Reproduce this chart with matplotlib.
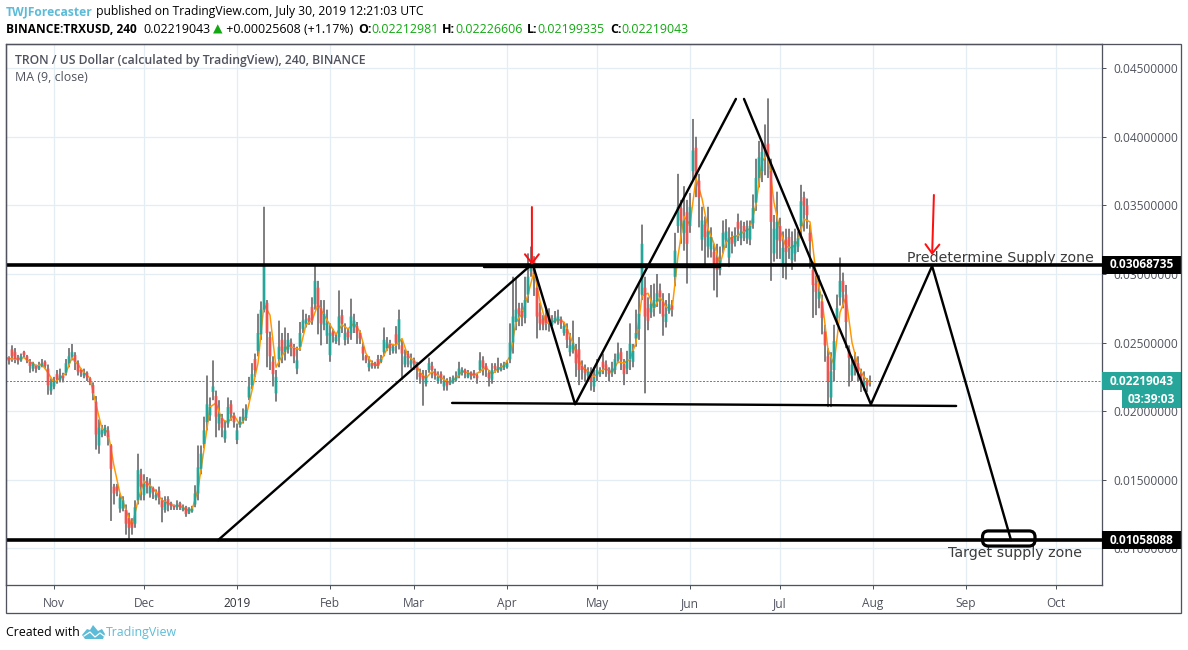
import numpy as np
import matplotlib
matplotlib.use("Agg")
import matplotlib.pyplot as plt
import matplotlib.dates as mdates
from matplotlib.patches import FancyBboxPatch, Polygon, Rectangle
from matplotlib.transforms import Affine2D

# Candles, one per day from 2018-10-16, prices in units of 0.0001
first_day = np.datetime64("2018-10-16")
open_e4 = [
    237, 239, 245, 243, 239, 237, 243, 240, 236, 231, 233, 231, 233, 236, 231, 215, 218,
    227, 223, 226, 228, 235, 240, 241, 235, 230, 226, 228, 224, 219, 207, 175, 183, 184, 186, 175,
    145, 145, 129, 129, 128, 122, 119, 118, 135, 154, 139, 149, 140, 144, 137, 142, 135, 128, 136, 133, 131, 130, 133, 128, 130, 126, 127, 132, 140, 158,
    176, 192, 197, 214, 211, 191, 195, 180, 191, 205, 197, 179, 190, 193, 195, 210, 219, 238, 244, 256, 274, 279, 254, 236, 213, 238, 252, 243, 245, 250, 246, 231, 247, 260, 264, 268, 276, 278, 290, 275, 263, 255, 241, 258, 251, 254, 270, 252, 258, 257, 261, 262, 257, 247, 240, 232, 235, 235, 238, 236, 243, 246, 249, 244,
    256, 250, 248, 234, 242, 234, 237, 233, 228, 226, 220, 230, 233, 229, 222, 227, 218, 222, 220, 221, 223, 226, 228, 230, 225, 228, 228, 226, 230, 237, 233, 228, 223, 233, 230, 230, 232, 232, 238, 250, 265, 275, 273, 268, 285, 302, 310, 290, 272, 267, 270, 270, 263, 265, 266, 267, 257, 260, 243, 245, 245, 245, 233, 231, 226,
    228, 218, 226, 227, 236, 234, 230, 228, 230, 238, 243, 234, 231, 238, 236, 253, 260, 285, 290, 275, 272, 275, 280, 288, 280, 265, 273, 277, 298, 335, 348, 330, 345, 335, 375, 392, 368, 325, 336, 320, 318, 316, 312, 303, 320, 325, 312, 327, 323,
    338, 326, 335, 326, 325, 337, 352, 370, 375, 394, 395, 375, 315, 325, 335, 305, 325, 327, 310, 315, 320, 335, 356, 350, 330, 303, 293, 282, 280, 258, 240, 210, 230, 268, 283, 295, 285, 245, 226, 237, 235, 227, 218, 222, 221.3,
]
high_e4 = [
    241, 240, 248, 246, 241, 242, 244, 241, 238, 236, 234, 236, 238, 237, 234, 224, 225,
    230, 231, 228, 238, 246, 249, 243, 237, 231, 231, 229, 225, 221, 211, 194, 190, 190, 189, 176,
    147, 147, 140, 138, 132, 126, 122, 135, 169, 158, 154, 152, 151, 145, 143, 145, 137, 138, 138, 134, 132, 135, 134, 132, 131, 130, 131, 146, 175, 175,
    196, 226, 210, 237, 215, 208, 198, 193, 210, 208, 199, 191, 196, 202, 205, 225, 235, 242, 271, 280, 349, 281, 258, 240, 230, 266, 257, 261, 257, 253, 249, 247, 265, 274, 271, 270, 283, 306, 295, 281, 281, 274, 264, 260, 257, 288, 274, 264, 260, 282, 271, 265, 259, 250, 241, 240, 237, 236, 241, 241, 261, 254, 252, 249,
    262, 274, 252, 245, 244, 242, 239, 236, 231, 230, 230, 239, 236, 231, 229, 229, 226, 224, 225, 226, 229, 236, 232, 231, 230, 229, 230, 228, 243, 240, 235, 230, 235, 235, 239, 235, 236, 237, 264, 298, 297, 279, 279, 298, 315, 320, 313, 298, 279, 270, 274, 275, 270, 273, 274, 269, 265, 264, 257, 266, 249, 254, 237, 234, 232,
    232, 232, 238, 232, 242, 237, 232, 236, 242, 250, 246, 238, 244, 264, 249, 274, 293, 336, 298, 283, 292, 293, 300, 293, 286, 281, 286, 281, 330, 373, 354, 364, 354, 359, 413, 400, 373, 349, 342, 349, 334, 322, 322, 320, 339, 340, 334, 331, 334,
    344, 339, 338, 339, 339, 358, 384, 397, 397, 409, 428, 384, 343, 360, 341, 331, 333, 333, 331, 333, 331, 365, 360, 355, 336, 309, 299, 299, 285, 263, 246, 243, 263, 285, 312, 301, 292, 248, 240, 243, 240, 231, 229, 224, 226,
]
low_e4 = [
    236, 234, 236, 235, 234, 236, 239, 235, 228, 229, 228, 230, 232, 231, 212, 212, 216,
    220, 221, 221, 226, 232, 237, 230, 226, 225, 224, 222, 219, 208, 172, 169, 181, 182, 175, 120,
    132, 138, 126, 127, 110, 107, 110, 115, 132, 135, 135, 140, 137, 136, 135, 132, 119, 126, 127, 128, 128, 128, 128, 127, 123, 125, 126, 130, 135, 154,
    173, 186, 193, 208, 181, 186, 181, 177, 188, 193, 188, 176, 188, 191, 193, 208, 216, 225, 240, 252, 272, 232, 230, 218, 207, 232, 235, 237, 242, 240, 235, 227, 244, 257, 261, 263, 263, 274, 256, 248, 259, 249, 236, 250, 249, 248, 257, 248, 249, 252, 257, 249, 249, 237, 235, 229, 231, 231, 231, 235, 240, 244, 241, 242,
    242, 245, 223, 232, 232, 231, 230, 223, 220, 204, 218, 228, 224, 223, 220, 220, 215, 215, 219, 220, 222, 224, 226, 224, 224, 223, 224, 220, 228, 226, 225, 218, 220, 228, 228, 229, 230, 231, 235, 242, 259, 262, 262, 264, 279, 298, 284, 253, 259, 259, 259, 258, 262, 264, 263, 260, 255, 246, 240, 242, 225, 219, 223, 222, 223,
    215, 214, 222, 225, 227, 225, 222, 225, 227, 235, 230, 219, 227, 230, 232, 247, 252, 281, 213, 259, 268, 269, 276, 271, 255, 261, 271, 269, 291, 330, 322, 317, 293, 330, 368, 356, 334, 317, 306, 312, 312, 288, 283, 299, 315, 319, 305, 315, 320,
    324, 321, 324, 322, 321, 333, 346, 363, 367, 372, 370, 295, 309, 311, 311, 297, 296, 311, 303, 309, 316, 326, 331, 333, 304, 268, 270, 275, 256, 236, 203, 203, 222, 263, 277, 275, 246, 218, 222, 226, 222, 214, 215, 214, 218,
]
close_e4 = [
    239, 237, 240, 238, 237, 240, 241, 237, 233, 235, 231, 233, 235, 233, 219, 221, 222,
    223, 226, 224, 235, 240, 243, 236, 229, 228, 228, 225, 221, 213, 183, 188, 186, 188, 181, 158,
    140, 142, 137, 135, 118, 115, 115, 130, 157, 145, 147, 145, 145, 141, 139, 137, 130, 134, 132, 131, 130, 132, 130, 130, 125, 129, 129, 140, 159, 169,
    186, 205, 203, 218, 196, 198, 188, 186, 203, 198, 192, 186, 192, 196, 201, 218, 227, 230, 257, 274, 306, 257, 240, 227, 225, 247, 244, 247, 252, 247, 240, 237, 257, 266, 267, 266, 266, 295, 276, 264, 271, 264, 257, 255, 254, 269, 264, 257, 254, 269, 266, 257, 253, 242, 237, 235, 233, 233, 233, 238, 252, 250, 246, 247,
    250, 267, 242, 240, 239, 237, 235, 230, 225, 223, 225, 235, 230, 226, 225, 224, 222, 219, 222, 224, 225, 231, 230, 228, 228, 226, 226, 224, 237, 232, 230, 224, 230, 231, 232, 232, 234, 235, 250, 269, 274, 271, 269, 281, 298, 308, 300, 269, 264, 263, 264, 265, 266, 268, 269, 264, 262, 252, 248, 250, 235, 230, 230, 228, 229,
    222, 225, 230, 229, 232, 230, 227, 231, 238, 242, 237, 227, 237, 249, 244, 257, 271, 322, 269, 266, 278, 281, 286, 283, 269, 271, 278, 274, 317, 349, 339, 339, 322, 349, 390, 371, 356, 339, 327, 331, 327, 308, 303, 310, 330, 331, 326, 322, 328,
    333, 331, 331, 333, 335, 348, 370, 385, 389, 389, 385, 338, 333, 338, 324, 319, 316, 321, 321, 324, 326, 353, 350, 343, 324, 292, 287, 287, 268, 248, 222, 229, 251, 275, 295, 287, 265, 239, 234, 231, 229, 222, 222, 219, 221.9,
]
# 9 period average, sampled every second day
ma_e4 = [
    239, 238, 238, 239, 236, 233, 234, 228, 221,
    224, 228, 239, 234, 228, 224, 205, 187, 185,
    160, 140, 128, 116, 135, 149, 146, 141, 135, 133, 131, 131, 128, 128, 143,
    172, 203, 206, 194, 192, 197, 190, 196, 215, 235, 278, 270, 232, 240, 248, 246, 245, 263, 266, 278, 270, 263, 256, 263, 260, 264, 258, 242, 235, 233, 241, 249,
    248, 253, 240, 237, 228, 224, 229, 226, 223, 221, 224, 229, 228, 226, 229, 232, 227, 231, 233, 240, 265, 271, 285, 302, 280, 264, 265, 267, 265, 255, 243, 232, 229,
    225, 229, 231, 228, 236, 235, 238, 250, 284, 286, 275, 283, 276, 274, 313, 342, 336, 370, 355, 333, 322, 307, 323, 327,
    328, 331, 333, 351, 382, 388, 352, 332, 320, 319, 324, 340, 338, 300, 281, 245, 234, 272, 283, 250, 233, 225, 221,
]

last_price = 0.02219043
supply_level = 0.03068735
target_level = 0.01058088

month_ticks = ["2018-11-01", "2018-12-01", "2019-01-01", "2019-02-01", "2019-03-01", "2019-04-01",
               "2019-05-01", "2019-06-01", "2019-07-01", "2019-08-01", "2019-09-01", "2019-10-01"]
month_labels = ["Nov", "Dec", "2019", "Feb", "Mar", "Apr", "May", "Jun", "Jul", "Aug", "Sep", "Oct"]
price_ticks = [0.010, 0.015, 0.020, 0.025, 0.030, 0.035, 0.040, 0.045]

# Hand drawn pattern, x as days after 2018-11-01
rise_days = [54.7, 158.7]
rise_prices = [0.0106, 0.0306]
zig_days = [160.0, 173.7, 227.3]
zig_prices = [0.0304, 0.0205, 0.04276]
zag_days = [230.0, 272.3, 292.7, 319.0]
zag_prices = [0.04276, 0.0205, 0.03058, 0.0106]
neck_days = [132.7, 300.7]
neck_prices = [0.0206, 0.02038]
shelf_days = [143.3, 222.0]
shelf_prices = [0.0305, 0.0305]
arrow_days = [(159.3, 159.3), (293.3, 292.7)]
arrow_prices = [(0.03488, 0.03066), (0.03576, 0.03138)]

AXIS_COLOR = "#50535e"
GRID_COLOR = "#e4edf3"
UP_COLOR = "#26a69a"
DOWN_COLOR = "#ef5350"
WICK_COLOR = "#747476"
BRAND_COLOR = "#5cbcd8"
GREEN_TEXT = "#12a812"
UI_FONT = ["Open Sans", "DejaVu Sans"]

W, H = 1188, 650
PX = 0.72  # one pixel in points at dpi 100

fig = plt.figure(figsize=(W / 100, H / 100), dpi=100, facecolor="white")
ax = fig.add_axes([6 / W, 1 - 585 / H, 1096 / W, 541 / H])
pixel = Affine2D().scale(1 / W, -1 / H).translate(0, 1) + fig.transFigure


def day_number(days):
    return mdates.date2num(np.datetime64("2018-11-01")) + np.asarray(days)


def run_of_text(x, y, parts, size):
    # Places coloured pieces of text one after the other along a line
    renderer = fig.canvas.get_renderer()
    for text, color, weight in parts:
        t = fig.text(x, y, text, transform=pixel, color=color, fontweight=weight, fontsize=size,
                     family=UI_FONT, va="center", ha="left")
        x += t.get_window_extent(renderer).width
    return x


opens = np.array(open_e4) * 1e-4
highs = np.array(high_e4) * 1e-4
lows = np.array(low_e4) * 1e-4
closes = np.array(close_e4) * 1e-4
candle_dates = first_day + np.arange(len(closes))
ma_dates = first_day + 2 * np.arange(len(ma_e4))
rising = closes >= opens

ax.set_xlim(day_number(-16), day_number(349.33))
ax.set_ylim(0.00733, 0.046764)
ax.grid(True, color=GRID_COLOR, linewidth=0.9 * PX * 1.4)
ax.set_axisbelow(True)

# Price candles and the moving average, unsnapped so neighbours close up into a band
candle_num = mdates.date2num(candle_dates)
wicks = ax.vlines(candle_num, lows, highs, color=WICK_COLOR, linewidth=1.8 * PX, zorder=2)
ax.plot(mdates.date2num(ma_dates), np.array(ma_e4) * 1e-4, color="#ff9800", linewidth=1.5 * PX, zorder=2.8)
up_bodies = ax.vlines(candle_num[rising], opens[rising], closes[rising], color=UP_COLOR, linewidth=2.7 * PX, zorder=3)
down_bodies = ax.vlines(candle_num[~rising], opens[~rising], closes[~rising], color=DOWN_COLOR, linewidth=2.7 * PX, zorder=3)
for bars in (wicks, up_bodies, down_bodies):
    bars.set_snap(False)
ax.axhline(last_price, color=UP_COLOR, linewidth=1.0 * PX, linestyle=(0, (2, 1.5)), zorder=2.5)

# Annotations: levels, pattern legs, arrows, target box
ax.text(day_number(284.3), supply_level + 0.00046, "Predetermine Supply zone", fontsize=10.2,
        color="#3c3c3c", va="center", ha="left", zorder=4)
ax.text(day_number(298.0), 0.00966, "Target supply zone", fontsize=10.3,
        color="#3c3c3c", va="center", ha="left", zorder=4)
ax.axhline(supply_level, color="black", linewidth=3.6 * PX, zorder=5)
ax.axhline(target_level, color="black", linewidth=3.6 * PX, zorder=5)
for xs, ys in [(rise_days, rise_prices), (zig_days, zig_prices), (zag_days, zag_prices),
               (neck_days, neck_prices), (shelf_days, shelf_prices)]:
    ax.plot(day_number(xs), ys, color="black", linewidth=2.4 * PX, zorder=5, solid_capstyle="round")
for xs, ys in zip(arrow_days, arrow_prices):
    ax.annotate("", xy=(day_number(xs[1]), ys[1]), xytext=(day_number(xs[0]), ys[0]), zorder=6,
                arrowprops=dict(arrowstyle="->,head_length=0.65,head_width=0.5", color="#ff0f0f",
                                linewidth=2.0 * PX, shrinkA=0, shrinkB=0))
ax.add_patch(FancyBboxPatch((day_number(309.5), 0.01017), 17.5, 0.0011,
                            boxstyle="round,pad=0,rounding_size=2", mutation_aspect=2.19e-4,
                            facecolor="none", edgecolor="black", linewidth=3.2 * PX, zorder=6))

# Axes, ticks and the two scales
ax.set_xticks(day_number([(np.datetime64(d) - np.datetime64("2018-11-01")).astype(int) for d in month_ticks]))
ax.set_xticklabels(month_labels)
ax.set_yticks(price_ticks)
ax.set_yticklabels(["%.8f" % p for p in price_ticks])
ax.yaxis.tick_right()
ax.tick_params(axis="both", length=4 * PX, width=1 * PX, color=AXIS_COLOR, labelcolor=AXIS_COLOR, labelsize=8.6)
ax.tick_params(axis="x", pad=6)
ax.tick_params(axis="y", pad=5)
for label in ax.get_xticklabels() + ax.get_yticklabels():
    label.set_family(UI_FONT)
ax.get_xticklabels()[2].set_color("#2f3138")
for spine in ax.spines.values():
    spine.set_color(AXIS_COLOR)
    spine.set_linewidth(1.3 * PX)

fig.add_artist(Rectangle((6, 44), 1175, 569, transform=pixel, facecolor="none",
                         edgecolor=AXIS_COLOR, linewidth=1.3 * PX))


def price_tag(price, text, color, left=1.0, height_px=18):
    # Coloured label on the price scale, centred on its value
    half = height_px / 2 * (0.046764 - 0.00733) / 541
    tag_width = 1181.5 / 1096 - 6 / 1096 - left
    ax.add_patch(Rectangle((left, price - half), tag_width, 2 * half, transform=ax.get_yaxis_transform(),
                           facecolor=color, edgecolor="none", clip_on=False, zorder=7))
    ax.text(left + tag_width / 2, price, text, transform=ax.get_yaxis_transform(), color="white",
            fontweight="bold", fontsize=8.6, family=UI_FONT, ha="center", va="center", zorder=8)


price_tag(supply_level, "%.8f" % supply_level, "black")
price_tag(target_level, "%.8f" % target_level, "black")
price_tag(last_price, "%.8f" % last_price, UP_COLOR)
price_tag(last_price - 0.00133, "03:39:03", UP_COLOR, left=1116 / 1096)

# Header lines, legend and footer
run_of_text(6, 12, [("TWJForecaster", BRAND_COLOR, "bold"),
                    (" published on TradingView.com, July 30, 2019 12:21:03 UTC", "black", "normal")], 8.7)
run_of_text(6, 29.5, [("BINANCE:TRXUSD, 240", "black", "bold")], 8.6)
run_of_text(143, 29.5, [("0.02219043", "black", "normal"), (" ", "black", "normal"), ("▲", GREEN_TEXT, "normal"),
                        (" +0.00025608 (+1.17%)", "black", "normal")], 8.9)
for x_start, label, value in [(358, "O:", "0.02212981"), (442, "H:", "0.02226606"),
                              (527, "L:", "0.02199335"), (610, "C:", "0.02219043")]:
    run_of_text(x_start, 29.5, [(label, "black", "bold"), (value, GREEN_TEXT, "normal")], 8.9)
fig.text(15, 60.5, "TRON / US Dollar (calculated by TradingView), 240, BINANCE", transform=pixel,
         color=AXIS_COLOR, fontweight="semibold", fontsize=8.8, family=UI_FONT, va="center")
fig.text(15, 77.5, "MA (9, close)", transform=pixel, color=AXIS_COLOR, fontsize=8.9, family=UI_FONT, va="center")
fig.text(6, 632.5, "Created with", transform=pixel, color="black", fontsize=8.9, family=UI_FONT, va="center")
fig.text(106, 632.5, "TradingView", transform=pixel, color=BRAND_COLOR, fontsize=8.9, family=UI_FONT, va="center")
fig.add_artist(Polygon([(82, 635), (87, 629), (90, 630), (93, 625), (98, 631), (102, 629), (105, 634),
                        (103, 639), (85, 639)], closed=True, transform=pixel, facecolor=BRAND_COLOR, edgecolor="none"))
fig.add_artist(plt.Line2D([84, 90, 95, 100, 104], [636, 632, 637, 633, 636], transform=pixel,
                          color="white", linewidth=1.2 * PX))

fig.savefig("out.png", dpi=100)
